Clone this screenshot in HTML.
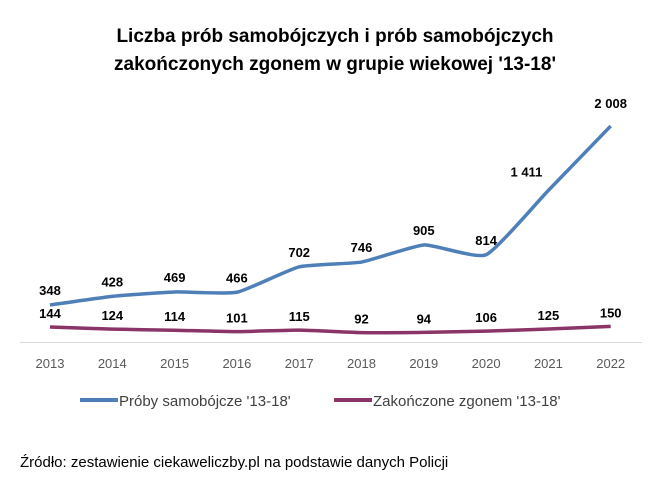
<!DOCTYPE html>
<html><head><meta charset="utf-8"><style>
body{margin:0;background:#fff;width:671px;height:482px;overflow:hidden;font-family:"Liberation Sans",Calibri,sans-serif}
</style></head><body>
<svg width="671" height="482" xmlns="http://www.w3.org/2000/svg">
<text x="335" y="42" text-anchor="middle" font-size="19" font-weight="bold" fill="#000">Liczba prób samobójczych i prób samobójczych</text>
<text x="335" y="70" text-anchor="middle" font-size="19" font-weight="bold" fill="#000">zakończonych zgonem w grupie wiekowej '13-18'</text>
<line x1="20" y1="342.5" x2="642" y2="342.5" stroke="#d9d9d9" stroke-width="1"/>
<g id="plot"></g>
<line x1="80" y1="400" x2="118" y2="400" stroke="#4f7fb8" stroke-width="4"/>
<text x="119" y="406" font-size="15" fill="#404040">Próby samobójcze '13-18'</text>
<line x1="334" y1="400" x2="372" y2="400" stroke="#8b3468" stroke-width="4"/>
<text x="373" y="406" font-size="15" fill="#404040">Zakończone zgonem '13-18'</text>
<text x="20" y="467" font-size="15" fill="#000">Źródło: zestawienie ciekaweliczby.pl na podstawie danych Policji</text>
</svg>
<script>
const years=["2013","2014","2015","2016","2017","2018","2019","2020","2021","2022"];
const attempts=[348,428,469,466,702,746,905,814,1411,2008];
const deaths=[144,124,114,101,115,92,94,106,125,150];
const attemptLabels=["348","428","469","466","702","746","905","814","1 411","2 008"];
const deathLabels=["144","124","114","101","115","92","94","106","125","150"];
const NS="http://www.w3.org/2000/svg";
const g=document.getElementById('plot');
function xs(i){return 50+i*62.3;}
function ys(v){return 342.5-v*0.1078;}
function mk(t,a){const e=document.createElementNS(NS,t);for(const k in a)e.setAttribute(k,a[k]);g.appendChild(e);return e;}
function smooth(vals){let d="M"+xs(0)+","+ys(vals[0]);for(let i=0;i<vals.length-1;i++){const p0=[xs(Math.max(i-1,0)),ys(vals[Math.max(i-1,0)])],p1=[xs(i),ys(vals[i])],p2=[xs(i+1),ys(vals[i+1])],p3=[xs(Math.min(i+2,vals.length-1)),ys(vals[Math.min(i+2,vals.length-1)])];const t=0.08;const c1=[p1[0]+(p2[0]-p0[0])*t,p1[1]+(p2[1]-p0[1])*t],c2=[p2[0]-(p3[0]-p1[0])*t,p2[1]-(p3[1]-p1[1])*t];d+=" C"+c1+" "+c2+" "+p2;}return d;}
years.forEach((y,i)=>{const t=mk('text',{x:xs(i),y:368,'text-anchor':'middle','font-size':'13',fill:'#595959'});t.textContent=y;

});
const p1=mk('path',{d:smooth(attempts),fill:'none',stroke:'#4f7fb8','stroke-width':'3.5','stroke-linejoin':'round'});


const p2=mk('path',{d:smooth(deaths),fill:'none',stroke:'#8b3468','stroke-width':'3.5','stroke-linejoin':'round'});


attempts.forEach((v,i)=>{const dx=i===8?-22:0;const dy=i===8?-14:(i===9?-18:-10);const t=mk('text',{x:xs(i)+dx,y:ys(v)+dy,'text-anchor':'middle','font-size':'13','font-weight':'bold',fill:'#000'});t.textContent=attemptLabels[i];

});
deaths.forEach((v,i)=>{const t=mk('text',{x:xs(i),y:ys(v)-9,'text-anchor':'middle','font-size':'13','font-weight':'bold',fill:'#000'});t.textContent=deathLabels[i];

});
</script>
</body></html>
